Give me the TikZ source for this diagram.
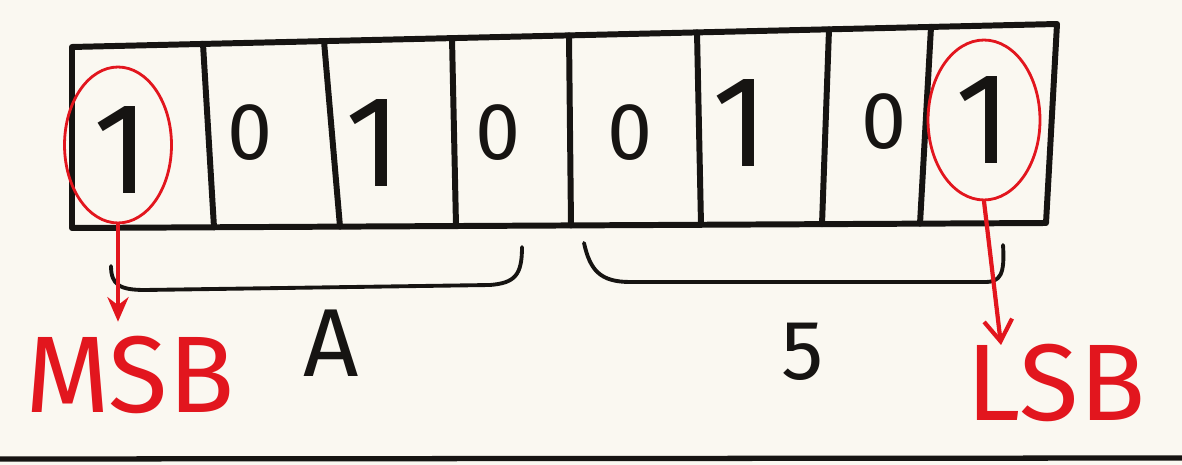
\documentclass[tikz,border=0pt]{standalone}
\usepackage{fontspec}
\setmainfont{Fira Sans}
\usetikzlibrary{arrows.meta,shapes.geometric}

\definecolor{paper}{RGB}{250,248,241}
\definecolor{ink}{RGB}{22,20,18}
\definecolor{pen}{RGB}{226,22,30}

\tikzset{
  frame/.style={ink, line width=3.4pt, line join=round, line cap=round},
  brace/.style={ink, line width=2.2pt, line cap=round},
  ring/.style={draw=pen, ellipse, line width=1.6pt, inner sep=0pt},
  pointer/.style={pen, line width=2.4pt, line cap=round},
  one/.style={font=\fontsize{74}{76}\selectfont, text=ink, inner sep=0pt},
  zero/.style={font=\fontsize{46}{48}\selectfont, text=ink, inner sep=0pt},
  hexlab/.style={font=\fontsize{55}{60}\selectfont, text=ink, inner sep=0pt},
  bitlab/.style={font=\fontsize{62}{66}\selectfont, text=pen, inner sep=0pt},
}

\begin{document}
\begin{tikzpicture}[x=0.02cm, y=-0.02cm]
  \useasboundingbox (0,0) rectangle (1182,465);
  \fill[paper] (0,0) rectangle (1182,465);

  % Byte outline, a little skewed like the sketch
  \coordinate (tl) at (72,47);
  \coordinate (tr) at (1057,24);
  \coordinate (br) at (1046,223);
  \coordinate (bl) at (72,228);
  \draw[frame] (tl) -- (tr) -- (br) -- (bl) -- cycle;

  % Cell dividers (top x / bottom x)
  \foreach \t/\b [evaluate=\t as \yt using 47-0.02335*(\t-72),
                  evaluate=\b as \yb using 228-0.00513*(\b-72)] in
      {203/214, 324/340, 452/456, 569/571, 697/701, 829/822, 931/920} {
    \draw[frame] (\t,\yt) -- (\b,\yb);
  }

  % Bits
  \foreach \i/\x/\y/\s/\v in {1/122/150/one/1, 2/250/133/zero/0, 3/374/143/one/1,
      4/498/133/zero/0, 5/630/133/zero/0, 6/741/123/one/1, 7/884/122/zero/0,
      8/984/120/one/1} {
    \node[\s] (d\i) at (\x,\y) {\v};
  }

  % Red rings on the end bits
  \node[ring, minimum width=2.14cm, minimum height=3.12cm] (msbring) at (118,145) {};
  \node[ring, minimum width=2.24cm, minimum height=3.2cm] (lsbring) at (984,120) {};

  % Nibble braces
  \draw[brace] (111,266) .. controls (111,285) and (120,290) .. (145,290)
    -- (490,285) .. controls (515,283) and (522,275) .. (522,247);
  \draw[brace] (584,243) .. controls (590,270) and (600,282) .. (630,282)
    -- (985,282) .. controls (1000,282) and (1005,275) .. (1003,245);

  % Labels
  \node[hexlab] (hexa) at (331,343) {A};
  \node[hexlab, font=\fontsize{48}{52}\selectfont] (hexfive) at (803,352) {5};
  \node[bitlab] (msb) at (130,375) {MSB};
  \node[bitlab] (lsb) at (1056,383) {LSB};

  % Pointers
  \coordinate (lsbtip) at (1001,345);
  \draw[pointer, -{Stealth[length=14pt, width=12pt]}]
    (msbring.south) -- ([yshift=8pt]msbring.south |- msb.north);
  \draw[pointer, -{Straight Barb[length=12pt, width=16pt]}]
    (lsbring.south) -- (lsbtip);

  % Rule under the sketch
  \draw[ink, line width=3pt] (0,459) -- (1182,458);
\end{tikzpicture}
\end{document}
